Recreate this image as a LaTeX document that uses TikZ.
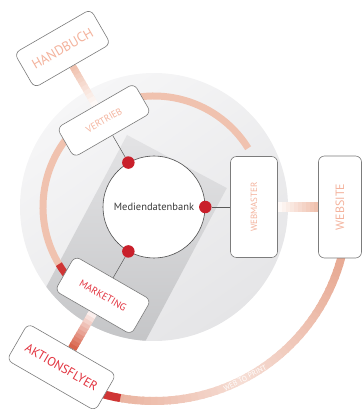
\documentclass[tikz,border=0pt]{standalone}
\usepackage{fontspec}
\setmainfont{PT Sans}
\usetikzlibrary{calc}

\definecolor{ringsalm}{HTML}{F0C2AF}
\definecolor{arcsalm}{HTML}{E8AB95}
\definecolor{salmtxt}{HTML}{F4B39D}
\definecolor{redtxt}{HTML}{E2323E}
\definecolor{dotred}{HTML}{C9202B}
\definecolor{darktip}{HTML}{CF3535}
\definecolor{rustbar}{HTML}{D8644C}
\definecolor{disclight}{HTML}{F6F6F7}
\definecolor{discgray}{HTML}{E5E5E7}
\definecolor{rectlight}{HTML}{E3E3E5}
\definecolor{rectdark}{HTML}{BCBDBF}
\definecolor{boxline}{HTML}{7C7C7C}
\definecolor{dbtext}{HTML}{3A3A3A}

\pgfdeclarelayer{bg}
\pgfdeclarelayer{mid}
\pgfsetlayers{bg,mid,main}

\begin{document}
\begin{tikzpicture}[x=1pt, y=1pt,
  box/.style={draw=boxline, line width=0.6pt, fill=white, rounded corners=6pt, inner sep=0pt},
  dot/.style={circle, fill=dotred, minimum size=12.5pt, inner sep=0pt},
  link/.style={draw=black!65, line width=0.5pt}]
\useasboundingbox (0,0) rectangle (363,416);
\coordinate (c) at (154,209);

% centre
\node[circle, draw=black!70, line width=0.6pt, fill=white, minimum size=102pt, inner sep=0pt,
  text=dbtext, font=\fontsize{10.5}{12}\selectfont] (db) at (c) {Mediendatenbank};
\node[dot] (dvertrieb) at (db.120) {};
\node[dot] (dwebmaster) at (db.0) {};
\node[dot] (dmarketing) at (db.-120) {};

% inner boxes
\node[box, rotate=30, minimum width=89pt, minimum height=34pt, text=salmtxt,
  font=\fontsize{9.5}{11}\selectfont] (vertrieb) at ($(c)+(120:100)$) {VERTRIEB};
\node[box, rotate=90, minimum width=101pt, minimum height=47pt, text=salmtxt,
  font=\fontsize{9}{11}\selectfont] (webmaster) at ($(c)+(0:100)$) {WEBMASTER};
\node[box, rotate=-30, minimum width=88pt, minimum height=40pt, text=redtxt,
  font=\fontsize{10}{12}\selectfont] (marketing) at ($(c)+(-120:102)$) {MARKETING};

% outer boxes
\node[box, rotate=30, minimum width=88pt, minimum height=40pt, text=salmtxt,
  font=\fontsize{13.5}{16}\selectfont] (handbuch) at ($(c)+(120:183)$) {HANDBUCH};
\node[box, rotate=90, minimum width=102pt, minimum height=43pt, text=salmtxt,
  font=\fontsize{12}{14}\selectfont] (website) at ($(c)+(0:186)$) {WEBSITE};
\node[box, rotate=-30, minimum width=102pt, minimum height=42pt, text=redtxt,
  font=\fontsize{12.5}{15}\selectfont] (aktionsflyer) at ($(c)+(-120:185)$) {AKTIONSFLYER};

\begin{pgfonlayer}{bg}
\shade[top color=disclight, bottom color=discgray, shading angle=35] (c) circle (134);
\begin{scope}
\clip (c) circle (134);
\begin{scope}[shift={(127,281)}, rotate=-28]
\shade[top color=rectlight, bottom color=rectdark] (0,0) rectangle (113,-240);
\end{scope}
\end{scope}
\end{pgfonlayer}

\begin{pgfonlayer}{mid}
% rings
\draw[line width=7pt, ringsalm] ($(c)+(32:111)$) arc (32:212:111);
\draw[line width=7pt, darktip] ($(c)+(211:111)$) arc (211:222:111);
\foreach \a in {-15,-17,...,-105} {
  \pgfmathtruncatemacro\m{min(100,40+60*abs(\a+62)/44)}
  \draw[line width=8pt, draw=arcsalm!\m!white] ($(c)+(\a:194)$) arc (\a:\a-2.6:194);
}
\draw[line width=8pt, darktip] ($(c)+(-100:194)$) arc (-100:-107:194);
% bars
\foreach \p/\q/\w/\col in {handbuch.south/vertrieb.north/7/ringsalm,
    website.north/webmaster.south/10/ringsalm,
    aktionsflyer.north/marketing.south/9/rustbar} {
  \foreach \i in {0,...,9} {
    \pgfmathtruncatemacro\m{100-\i*10}
    \draw[line width=\w pt, draw=\col!\m!white] ($(\p)!{\i/10}!(\q)$) -- ($(\p)!{(\i+1.3)/10}!(\q)$);
  }
}
% links
\draw[link] (dvertrieb) -- (vertrieb.south);
\draw[link] (dwebmaster) -- (webmaster.north);
\draw[link] (dmarketing) -- (marketing.north);
\end{pgfonlayer}

\node[rotate=28, text=white, font=\fontsize{7.5}{9}\selectfont] (webtoprint) at ($(c)+(-62:194)$) {WEB TO PRINT};
\end{tikzpicture}
\end{document}
